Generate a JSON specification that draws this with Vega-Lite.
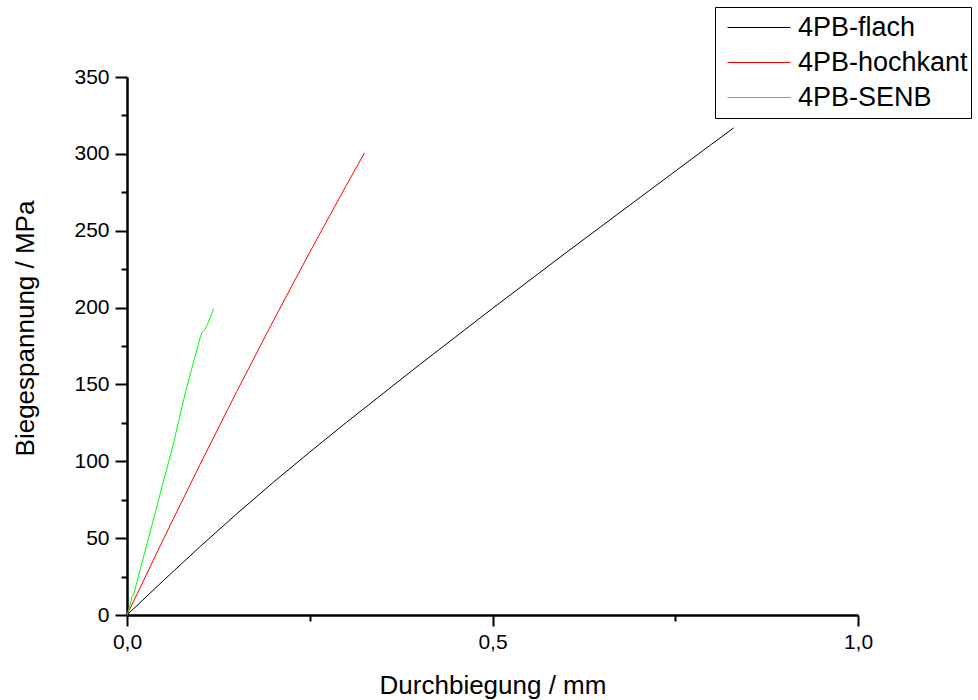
{
  "$schema": "https://vega.github.io/schema/vega-lite/v6.json",
  "width": 731,
  "height": 538,
  "autosize": {"type": "none"},
  "padding": {"left": 127, "top": 77, "right": 120, "bottom": 85},
  "background": "white",
  "config": {
    "view": {"stroke": null},
    "font": "Liberation Sans"
  },
  "data": {
    "values": [
      {"series": "4PB-flach", "x": 0, "y": 0},
      {"series": "4PB-flach", "x": 0.05, "y": 22.5},
      {"series": "4PB-flach", "x": 0.1, "y": 44.5},
      {"series": "4PB-flach", "x": 0.15, "y": 65.75},
      {"series": "4PB-flach", "x": 0.2, "y": 86.25},
      {"series": "4PB-flach", "x": 0.25, "y": 106},
      {"series": "4PB-flach", "x": 0.3, "y": 125.25},
      {"series": "4PB-flach", "x": 0.4, "y": 162.75},
      {"series": "4PB-flach", "x": 0.5, "y": 199.45},
      {"series": "4PB-flach", "x": 0.6, "y": 235.5},
      {"series": "4PB-flach", "x": 0.7, "y": 271},
      {"series": "4PB-flach", "x": 0.8, "y": 306.4},
      {"series": "4PB-flach", "x": 0.83, "y": 316.9},
      {"series": "4PB-hochkant", "x": 0, "y": 0},
      {"series": "4PB-hochkant", "x": 0.05, "y": 49.5},
      {"series": "4PB-hochkant", "x": 0.1, "y": 98},
      {"series": "4PB-hochkant", "x": 0.15, "y": 145.25},
      {"series": "4PB-hochkant", "x": 0.2, "y": 191.25},
      {"series": "4PB-hochkant", "x": 0.25, "y": 236},
      {"series": "4PB-hochkant", "x": 0.3, "y": 279.5},
      {"series": "4PB-hochkant", "x": 0.3247, "y": 300.5},
      {"series": "4PB-SENB", "x": 0, "y": 0},
      {"series": "4PB-SENB", "x": 0.004, "y": 6},
      {"series": "4PB-SENB", "x": 0.007, "y": 12},
      {"series": "4PB-SENB", "x": 0.01, "y": 15},
      {"series": "4PB-SENB", "x": 0.03, "y": 51},
      {"series": "4PB-SENB", "x": 0.0635, "y": 111.5},
      {"series": "4PB-SENB", "x": 0.08, "y": 145},
      {"series": "4PB-SENB", "x": 0.0985, "y": 177.8},
      {"series": "4PB-SENB", "x": 0.1, "y": 180.5},
      {"series": "4PB-SENB", "x": 0.103, "y": 184.3},
      {"series": "4PB-SENB", "x": 0.107, "y": 186},
      {"series": "4PB-SENB", "x": 0.11, "y": 189},
      {"series": "4PB-SENB", "x": 0.1186, "y": 199.3}
    ]
  },
  "mark": {"type": "line", "strokeWidth": 1, "clip": true},
  "encoding": {
    "x": {
      "field": "x",
      "type": "quantitative",
      "scale": {"domain": [0, 1], "nice": false, "zero": false},
      "axis": {
        "title": "Durchbiegung / mm",
        "values": [0, 0.25, 0.5, 0.75, 1],
        "labelExpr": "(round(datum.value * 100) % 50 === 0) ? replace(format(datum.value, '.1f'), '.', ',') : ''",
        "labelOverlap": false,
        "labelFontSize": 21,
        "labelColor": "black",
        "labelPadding": 5,
        "labelFlush": false,
        "grid": false,
        "domainColor": "black",
        "domainWidth": 2.5,
        "tickColor": "black",
        "tickWidth": 2,
        "tickSize": {"condition": {"test": "round(datum.value * 100) % 50 === 0", "value": 11}, "value": 6},
        "titleFontSize": 26,
        "titleFontWeight": "normal",
        "titleColor": "black",
        "titleY": 70,
        "titleBaseline": "middle"
      }
    },
    "y": {
      "field": "y",
      "type": "quantitative",
      "scale": {"domain": [0, 350], "nice": false},
      "axis": {
        "title": "Biegespannung / MPa",
        "values": [0, 25, 50, 75, 100, 125, 150, 175, 200, 225, 250, 275, 300, 325, 350],
        "labelExpr": "(datum.value % 50 === 0) ? datum.label : ''",
        "labelOverlap": false,
        "labelFontSize": 21,
        "labelColor": "black",
        "labelPadding": 6,
        "labelFlush": false,
        "grid": false,
        "domainColor": "black",
        "domainWidth": 2.5,
        "tickColor": "black",
        "tickWidth": 2,
        "tickSize": {"condition": {"test": "datum.value % 50 === 0", "value": 12}, "value": 6},
        "titleFontSize": 26,
        "titleFontWeight": "normal",
        "titleColor": "black",
        "titleX": -102,
        "titleY": 251,
        "titleAngle": -90,
        "titleBaseline": "middle",
        "titleAlign": "center"
      }
    },
    "color": {
      "field": "series",
      "type": "nominal",
      "scale": {
        "domain": ["4PB-flach", "4PB-hochkant", "4PB-SENB"],
        "range": ["#000000", "#ff0000", "#00ff00"]
      },
      "legend": {
        "title": null,
        "orient": "none",
        "legendX": 588,
        "legendY": -70,
        "strokeColor": "black",
        "padding": 3,
        "symbolType": "stroke",
        "symbolSize": 3969,
        "symbolStrokeWidth": 1,
        "symbolOffset": 9,
        "clipHeight": 35,
        "rowPadding": 0,
        "labelFontSize": 27,
        "labelColor": "black",
        "labelOffset": 7,
        "labelLimit": 0,
        "fillColor": "white"
      }
    }
  }
}
